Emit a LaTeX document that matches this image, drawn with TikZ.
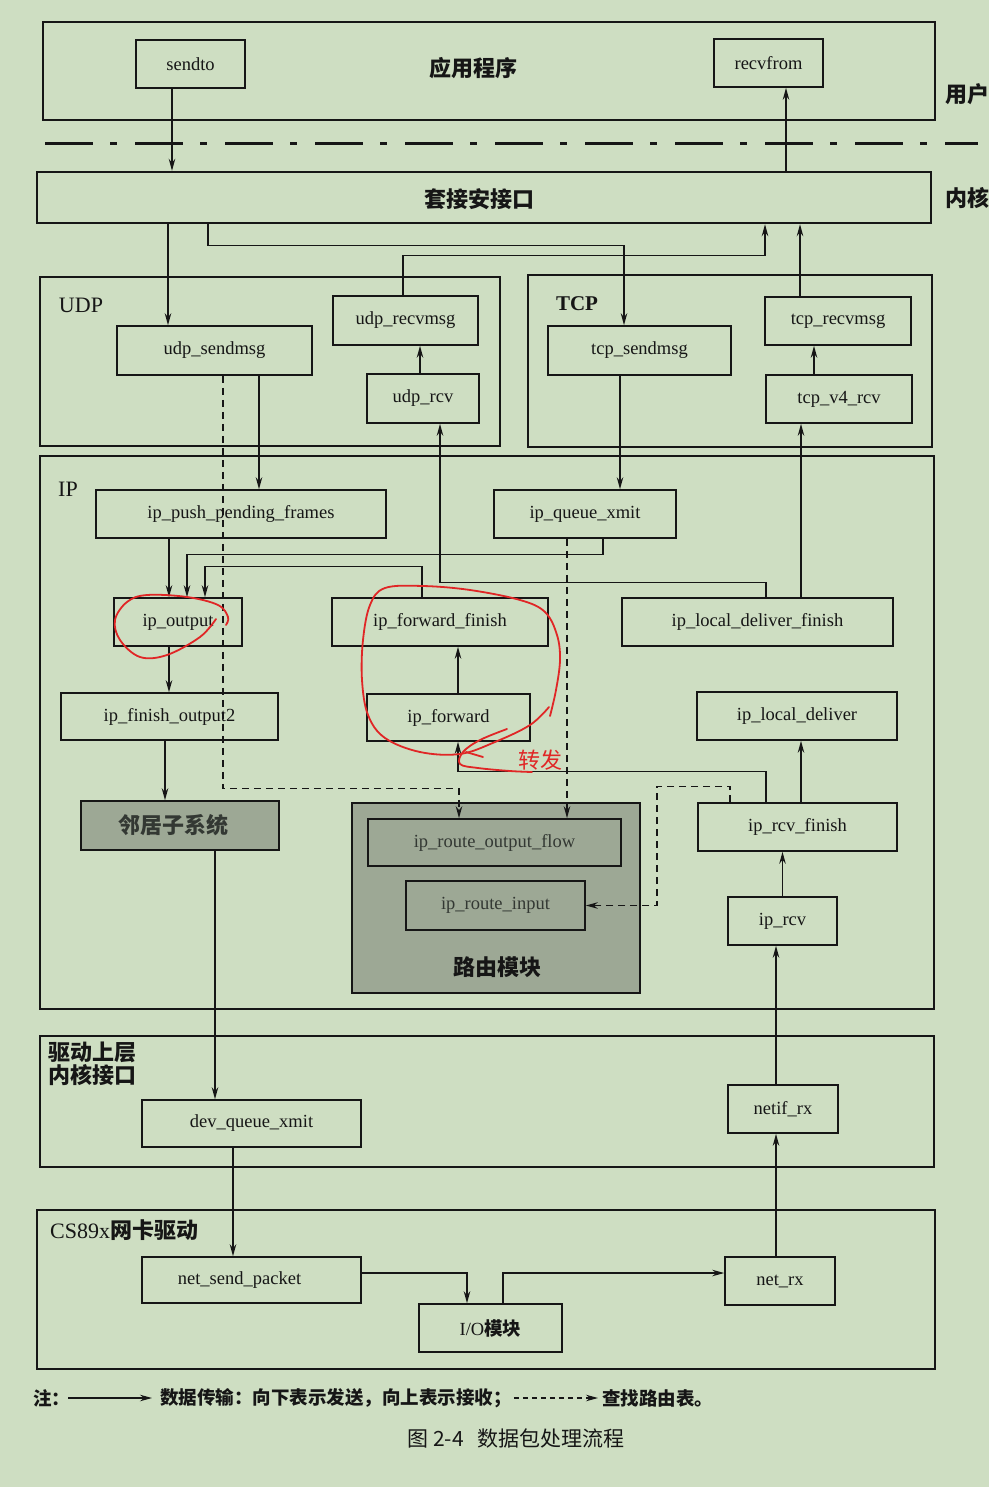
\documentclass[tikz,border=0pt]{standalone}
\usepackage{fontspec}
\setmainfont{Liberation Serif}
\newfontfamily\cjk{Noto Sans CJK SC}
\usetikzlibrary{arrows.meta}
\definecolor{bg}{HTML}{CEDEC2}
\definecolor{gbox}{HTML}{9DA895}
\definecolor{ink}{HTML}{161616}
\definecolor{gtext}{HTML}{333833}
\definecolor{redpen}{HTML}{E02626}
\tikzset{
  frame/.style={draw=ink, line width=2.4pt, inner sep=0pt},
  fbox/.style={draw=ink, line width=1.6pt, inner sep=0pt, text=ink, font=\fontsize{18.5}{20}\selectfont},
  gfbox/.style={fbox, text=gtext},
  arr/.style={draw=ink, line width=1.3pt, -{Stealth[length=12pt,width=6.5pt]}},
  darr/.style={arr, dash pattern=on 7pt off 5pt},
  cjklab/.style={inner sep=0pt, text=ink, font=\cjk\bfseries\fontsize{22}{23}\selectfont},
  enlab/.style={inner sep=0pt, text=ink, font=\fontsize{22}{24}\selectfont},
  legend/.style={inner sep=0pt, text=ink, font=\cjk\bfseries\fontsize{18.5}{20}\selectfont},
  redline/.style={draw=redpen, line width=1.8pt, line cap=round, line join=round},
}
\begin{document}
\begin{tikzpicture}[x=1pt,y=-1pt]
\fill[bg] (0,0) rectangle (989,1487);
\useasboundingbox (0,0) rectangle (989,1487);

% ---------- containers ----------
\node[frame, minimum width=892, minimum height=98] (app) at (489,71) {};
\node[frame, minimum width=894, minimum height=51] (sock) at (484,197.5) {};
\node[frame, minimum width=460, minimum height=169] (udpbox) at (270,361.5) {};
\node[frame, minimum width=404, minimum height=172] (tcpbox) at (730,361) {};
\node[frame, minimum width=894, minimum height=553] (ipbox) at (487,732.5) {};
\node[frame, minimum width=894, minimum height=131] (drvbox) at (487,1101.5) {};
\node[frame, minimum width=898, minimum height=159] (csbox) at (486,1289.5) {};

% separator user / kernel
\draw[ink, line width=3pt, dash pattern=on 48pt off 17pt on 7pt off 18pt] (45,144) -- (978,144);

% ---------- labels ----------
\node[cjklab] (lapp) at (473,68) {应用程序};
\node[cjklab] (lsock) at (479,199) {套接安接口};
\node[cjklab] (luser) at (967,94) {用户};
\node[cjklab] (lkern) at (967,198) {内核};
\node[enlab] (ludp) at (81,305.5) {UDP};
\node[enlab, font=\bfseries\fontsize{21}{24}\selectfont] (ltcp) at (577,304) {TCP};
\node[enlab] (lip) at (68,489) {IP};
\node[cjklab, anchor=north west, align=left] (ldrv) at (48,1042) {驱动上层\\内核接口};
\node[enlab, anchor=west] (lcs) at (50,1230) {CS89x{\cjk\bfseries 网卡驱动}};

% ---------- function boxes ----------
\node[fbox, minimum width=109, minimum height=48] (sendto) at (190.5,64) {sendto};
\node[fbox, minimum width=109, minimum height=48] (recvfrom) at (768.5,63) {recvfrom};

\node[fbox, minimum width=195, minimum height=49] (udpsend) at (214.5,350.5) {udp\_sendmsg};
\node[fbox, minimum width=145, minimum height=49] (udprecv) at (405.5,320.5) {udp\_recvmsg};
\node[fbox, minimum width=112, minimum height=49] (udprcv) at (423,398.5) {udp\_rcv};
\node[fbox, minimum width=183, minimum height=49] (tcpsend) at (639.5,350.5) {tcp\_sendmsg};
\node[fbox, minimum width=146, minimum height=48] (tcprecv) at (838,321) {tcp\_recvmsg};
\node[fbox, minimum width=146, minimum height=48] (tcpv4) at (839,399) {tcp\_v4\_rcv};

\node[fbox, minimum width=290, minimum height=48] (ippush) at (241,514) {ip\_push\_pending\_frames};
\node[fbox, minimum width=182, minimum height=48] (ipqueue) at (585,514) {ip\_queue\_xmit};
\node[fbox, minimum width=128, minimum height=48] (ipoutput) at (178,622) {ip\_output};
\node[fbox, minimum width=216, minimum height=48] (ipff) at (440,622) {ip\_forward\_finish};
\node[fbox, minimum width=271, minimum height=48] (ipldf) at (757.5,622) {ip\_local\_deliver\_finish};
\node[fbox, minimum width=217, minimum height=47] (ipfo2) at (169.5,716.5) {ip\_finish\_output2};
\node[fbox, minimum width=163, minimum height=47] (ipfwd) at (448.5,717.5) {ip\_forward};
\node[fbox, minimum width=200, minimum height=48] (ipld) at (797,716) {ip\_local\_deliver};
\node[fbox, fill=gbox, text=gtext, font=\cjk\bfseries\fontsize{22}{23}\selectfont, minimum width=198, minimum height=49] (neigh) at (180,825.5) {\hspace*{-14pt}邻居子系统};
\node[fbox, minimum width=199, minimum height=48] (iprf) at (797.5,827) {ip\_rcv\_finish};
\node[fbox, fill=gbox, minimum width=288, minimum height=190] (routebox) at (496,898) {};
\node[gfbox, minimum width=253, minimum height=47] (irof) at (494.5,842.5) {ip\_route\_output\_flow};
\node[gfbox, minimum width=179, minimum height=49] (iri) at (495.5,905.5) {ip\_route\_input};
\node[cjklab] (lroute) at (497,967) {路由模块};
\node[fbox, minimum width=109, minimum height=48] (iprcv) at (782.5,921) {ip\_rcv};

\node[fbox, minimum width=219, minimum height=47] (devq) at (251.5,1123.5) {dev\_queue\_xmit};
\node[fbox, minimum width=110, minimum height=48] (netifrx) at (783,1109) {netif\_rx};

\node[fbox, minimum width=219, minimum height=46] (netsend) at (251.5,1280) {\hspace*{-24pt}net\_send\_packet};
\node[fbox, minimum width=143, minimum height=48] (io) at (490.5,1328) {I/O{\cjk\bfseries 模块}};
\node[fbox, minimum width=110, minimum height=48] (netrx) at (780,1281) {net\_rx};

% ---------- connectors ----------
\draw[arr] ([xshift=-18.5]sendto.south) -- ([xshift=-18.5]sendto.south |- sock.north);
\draw[arr] ([xshift=17.5]recvfrom.south |- sock.north) -- ([xshift=17.5]recvfrom.south);
\draw[arr] ([xshift=-46.5]udpsend.north |- sock.south) -- ([xshift=-46.5]udpsend.north);
\draw[arr] ([xshift=-276]sock.south) -- ++(0,21) -| ([xshift=-15.5]tcpsend.north);
\draw[arr] ([xshift=-2.5]udprecv.north) -- ++(0,-40) -| ([xshift=281]sock.south);
\draw[arr] ([xshift=-38]tcprecv.north) -- ([xshift=-38]tcprecv.north |- sock.south);
\draw[arr] ([xshift=-3]udprcv.north) -- ([xshift=-3]udprcv.north |- udprecv.south);
\draw[arr] ([xshift=-25]tcpv4.north) -- ([xshift=-25]tcpv4.north |- tcprecv.south);
\draw[arr] ([xshift=18]ippush.north |- udpsend.south) -- ([xshift=18]ippush.north);
\draw[arr] ([xshift=35]ipqueue.north |- tcpsend.south) -- ([xshift=35]ipqueue.north);

\draw[darr] ([xshift=8.5]udpsend.south) -- ++(0,413) -| ([xshift=-35.5]irof.north);
\draw[darr] ([xshift=-18]ipqueue.south) -- ([xshift=-18]ipqueue.south |- irof.north);

\draw[arr] ([xshift=-9]ipoutput.north |- ippush.south) -- ([xshift=-9]ipoutput.north);
\draw[arr] ([xshift=18]ipqueue.south) -- ++(0,16) -| ([xshift=9]ipoutput.north);
\draw[arr] ([xshift=-18]ipff.north) -- ++(0,-31) -| ([xshift=27]ipoutput.north);
\draw[arr] ([xshift=8.5]ipldf.north) -- ++(0,-15) -| ([xshift=17]udprcv.south);
\draw[arr] ([xshift=-38]tcpv4.south |- ipldf.north) -- ([xshift=-38]tcpv4.south);

\draw[arr] ([xshift=-9]ipoutput.south) -- ([xshift=-9]ipoutput.south |- ipfo2.north);
\draw[arr] ([xshift=-15]neigh.north |- ipfo2.south) -- ([xshift=-15]neigh.north);
\draw[arr] ([xshift=9.5]ipfwd.north) -- ([xshift=9.5]ipfwd.north |- ipff.south);
\draw[arr] ([xshift=-31.5]iprf.north) -- ++(0,-31) -| ([xshift=9.5]ipfwd.south);
\draw[arr] ([xshift=4]ipld.south |- iprf.north) -- ([xshift=4]ipld.south);
\draw[arr] (iprcv.north) -- (iprcv.north |- iprf.south);
\draw[darr] ([xshift=-67.5]iprf.north) -- ++(0,-16) -- ++(-73,0) |- (iri.east);

\draw[arr] ([xshift=35]neigh.south) -- ([xshift=35]neigh.south |- devq.north);
\draw[arr] ([xshift=-18.5]devq.south) -- ([xshift=-18.5]devq.south |- netsend.north);
\draw[arr] ([yshift=7]netsend.east) -| ([xshift=-23.5]io.north);
\draw[arr] ([xshift=12.5]io.north) |- ([yshift=8]netrx.west);
\draw[arr] ([xshift=-4]netrx.north) -- ([xshift=-4]netrx.north |- netifrx.south);
\draw[arr] ([xshift=-7]netifrx.north) -- ([xshift=-7]netifrx.north |- iprcv.south);

% ---------- legend and caption ----------
\node[legend, anchor=west] (note) at (33,1398) {注：};
\node[legend, anchor=west] (leg1) at (160,1398) {数据传输：向下表示发送，向上表示接收；};
\node[legend, anchor=west] (leg2) at (602,1398) {查找路由表。};
\draw[arr, line width=1.2pt] ([xshift=-2]note.east) -- ([xshift=-8]leg1.west);
\draw[arr, line width=1.2pt, dash pattern=on 5pt off 4pt] ([xshift=2]leg1.east) -- ([xshift=-4]leg2.west);
\node[inner sep=0pt, text=ink, font=\cjk\fontsize{21}{22}\selectfont] (caption) at (516,1438) {图 2-4\hspace{14pt}数据包处理流程};

% ---------- red pen annotations ----------
\draw[redline] plot[smooth, tension=0.6] coordinates {(216,619) (200,637) (167,655) (140,657) (120,640) (115,620) (127,602) (147,595) (187,597) (218,605) (228,617) (226,625)};
\draw[redline] plot[smooth, tension=0.6] coordinates {(550,716) (556,690) (560,660) (557,635) (545,612) (520,600) (470,590) (423,586) (385,588) (370,605) (363,640) (362,680) (368,715) (385,738) (420,752) (460,754) (495,742) (530,725) (549,707)};
\draw[redline] plot[smooth, tension=0.6] coordinates {(507,729) (480,740) (463,752) (460,764) (478,768) (510,771) (532,772)};
\draw[redline] (466,752) -- (483,757);
\node[inner sep=0pt, text=redpen, font=\cjk\fontsize{22}{23}\selectfont] (zhuanfa) at (540,760) {转发};
\end{tikzpicture}
\end{document}
